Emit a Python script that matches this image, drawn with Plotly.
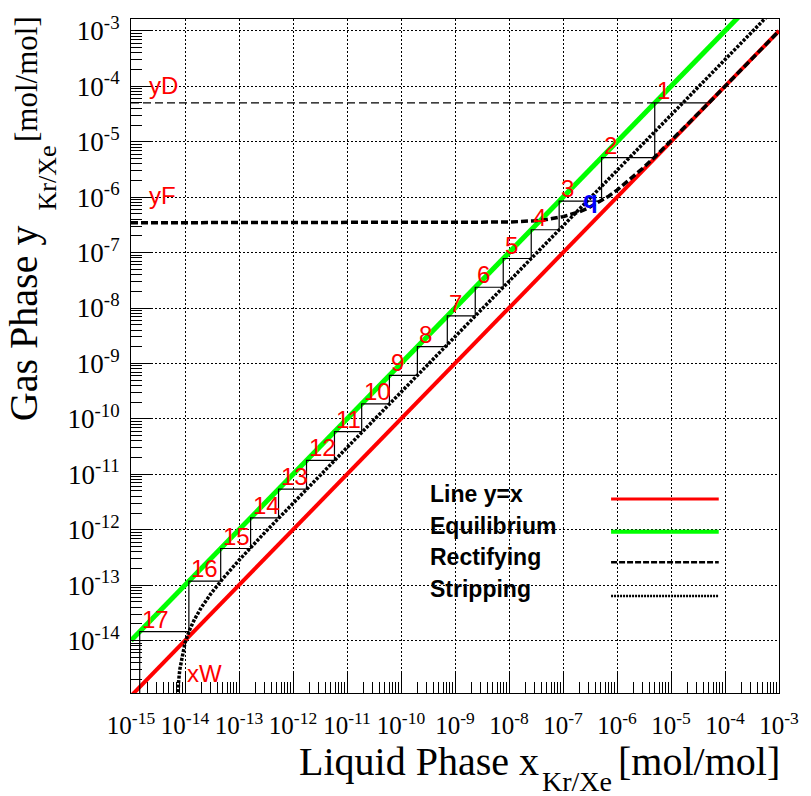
import math
import plotly.graph_objects as go

# ---------------- data ----------------
x_tick_exps = [-15, -14, -13, -12, -11, -10, -9, -8, -7, -6, -5, -4, -3]
y_tick_exps = [-14, -13, -12, -11, -10, -9, -8, -7, -6, -5, -4, -3]
x_range_log = [-15.0, -3.0]
y_range_log = [-14.946, -2.786]

# line y = x
diag_x = [1e-15, 1e-3]
diag_y = [1e-15, 1e-3]

# equilibrium line (y = 10 x)
equil_x = [1e-15, 1e-3]
equil_y = [1e-14, 1e-2]

# rectifying operating line
rect_x = [1e-15, 1e-12, 1e-9, 1e-8, 3e-8, 5e-8, 1e-7, 2e-7, 3e-7, 5e-7, 7e-7,
          1e-6, 2e-6, 3e-6, 5e-6, 1e-5, 5e-5, 1e-4, 1e-3]
rect_y = [3.45e-7, 3.45e-7, 3.45e-7, 3.549e-7, 3.748e-7, 3.947e-7, 4.443e-7,
          5.436e-7, 6.429e-7, 8.416e-7, 1.0402e-6, 1.338e-6, 2.331e-6,
          3.324e-6, 5.311e-6, 1.0276e-5, 5.0e-5, 9.966e-5, 9.934e-4]

# stripping operating line
strip_x = [7.1e-15, 7.3e-15, 7.6e-15, 8e-15, 9e-15, 1e-14, 1.2e-14, 1.5e-14,
           2e-14, 3e-14, 5e-14, 1e-13, 3e-13, 1e-12, 1e-11, 1e-10, 1e-9,
           1e-8, 1e-7, 1e-6, 1e-5, 1e-4, 1e-3]
strip_y = [2.63e-16, 8.69e-16, 1.778e-15, 2.99e-15, 6.02e-15, 9.05e-15,
           1.511e-14, 2.42e-14, 3.935e-14, 6.965e-14, 1.3025e-13, 2.8175e-13,
           8.8775e-13, 3.009e-12, 3.028e-11, 3.03e-10, 3.03e-9, 3.03e-8,
           3.03e-7, 3.03e-6, 3.03e-5, 3.03e-4, 3.03e-3]

# distillate composition, stage (equilibrium) points
x_D = 5.0e-5
y_D = 5.0e-5
stage_x = [5.0e-6, 5.18e-7, 8.49e-8, 2.58e-8, 7.82e-9, 2.37e-9, 7.20e-10,
           2.01e-10, 6.10e-11, 1.87e-11, 5.86e-12, 1.78e-12, 5.40e-13,
           1.64e-13, 4.58e-14, 1.18e-14, 1.45e-15]
stage_y = [5.0e-5, 5.18e-6, 8.49e-7, 2.58e-7, 7.82e-8, 2.37e-8, 7.20e-9,
           2.01e-9, 6.10e-10, 1.87e-10, 5.86e-11, 1.78e-11, 5.40e-12,
           1.64e-12, 4.58e-13, 1.18e-13, 1.45e-14]
stage_labels = ["1", "2", "3", "4", "5", "6", "7", "8", "9", "10", "11", "12",
                "13", "14", "15", "16", "17"]
last_step_bottom = 1e-16

# text labels (value positions)
yD_label_pos = (1.95e-15, 1.05e-4)
yF_label_pos = (1.95e-15, 1.05e-6)
xW_label_pos = (1.0e-14, 2.5e-15)
q_label_pos = (2.2e-7, 9.0e-7)

legend_names = ["Line y=x", "Equilibrium", "Rectifying", "Stripping"]

# ---------------- figure ----------------
W, H = 811, 796
ML, MR, MT, MB = 131, 24, 12, 103
PW, PH = W - ML - MR, H - MT - MB


def px(xp):
    return (xp - ML) / PW


def py(yp):
    return (H - MB - yp) / PH


SERIF = "Liberation Serif"
SANS = "Liberation Sans"

fig = go.Figure()

fig.add_trace(go.Scatter(x=diag_x, y=diag_y, mode="lines",
                         line=dict(color="#ff0000", width=4), showlegend=False))
fig.add_trace(go.Scatter(x=equil_x, y=equil_y, mode="lines",
                         line=dict(color="#00ff00", width=5), showlegend=False))
fig.add_trace(go.Scatter(x=[diag_x[0], stage_x[0]], y=[y_D, y_D], mode="lines",
                         line=dict(color="black", width=1.3, dash="8px,4px"),
                         showlegend=False))
fig.add_trace(go.Scatter(x=rect_x, y=rect_y, mode="lines",
                         line=dict(color="black", width=3.5, dash="7px,3px"),
                         showlegend=False))
fig.add_trace(go.Scatter(x=strip_x, y=strip_y, mode="lines",
                         line=dict(color="black", width=3.5, dash="3px,1.5px"),
                         showlegend=False))

# McCabe-Thiele steps
sx, sy = [x_D], [y_D]
n = len(stage_x)
for k in range(n):
    sx.append(stage_x[k]); sy.append(stage_y[k])
    nxt = stage_y[k + 1] if k < n - 1 else last_step_bottom
    sx.append(stage_x[k]); sy.append(nxt)
fig.add_trace(go.Scatter(x=sx, y=sy, mode="lines",
                         line=dict(color="black", width=1.2), showlegend=False))

annotations = []
for k in range(n):
    annotations.append(dict(x=math.log10(stage_x[k]), y=math.log10(stage_y[k]),
                            xref="x", yref="y", text=stage_labels[k],
                            showarrow=False, xanchor="left", yanchor="bottom",
                            xshift=0, yshift=-3,
                            font=dict(family=SANS, size=24, color="#ff0000")))

for txt, pos in (("yD", yD_label_pos), ("yF", yF_label_pos), ("xW", xW_label_pos)):
    annotations.append(dict(x=math.log10(pos[0]), y=math.log10(pos[1]),
                            xref="x", yref="y", text=txt, showarrow=False,
                            xanchor="left", yanchor="middle",
                            font=dict(family=SANS, size=24, color="#ff0000")))
annotations.append(dict(x=math.log10(q_label_pos[0]), y=math.log10(q_label_pos[1]),
                        xref="x", yref="y", text="<b>q</b>", showarrow=False,
                        xanchor="left", yanchor="middle",
                        font=dict(family=SANS, size=24, color="#0000ff")))

# legend (text left, line sample right)
leg_text_y = [492, 524, 556, 588]
leg_line_y = [497, 530, 561, 595]
leg_styles = [dict(color="#ff0000", width=3),
              dict(color="#00ff00", width=4),
              dict(color="black", width=2.5, dash="6px,2px"),
              dict(color="black", width=2.5, dash="2px,1px")]
shapes = []
for name, ty, ly, st in zip(legend_names, leg_text_y, leg_line_y, leg_styles):
    annotations.append(dict(x=px(432), y=py(ty), xref="paper", yref="paper",
                            text="<b>%s</b>" % name, showarrow=False,
                            xanchor="left", yanchor="middle",
                            font=dict(family=SANS, size=23, color="black")))
    shapes.append(dict(type="line", xref="paper", yref="paper",
                       x0=px(617), x1=px(726), y0=py(ly), y1=py(ly), line=st))

# axis titles (right / top aligned like the original)
annotations += [
    dict(x=px(546), y=py(762), xref="paper", yref="paper", text="Liquid Phase x",
         showarrow=False, xanchor="right", yanchor="middle",
         font=dict(family=SERIF, size=40, color="black")),
    dict(x=px(545), y=py(782), xref="paper", yref="paper", text="Kr/Xe",
         showarrow=False, xanchor="left", yanchor="middle",
         font=dict(family=SERIF, size=28, color="black")),
    dict(x=px(790), y=py(762), xref="paper", yref="paper", text="[mol/mol]",
         showarrow=False, xanchor="right", yanchor="middle",
         font=dict(family=SERIF, size=40, color="black")),
    dict(x=px(22), y=py(420), xref="paper", yref="paper", text="Gas Phase y",
         showarrow=False, xanchor="center", yanchor="bottom", textangle=-90,
         font=dict(family=SERIF, size=40, color="black")),
    dict(x=px(46), y=py(208), xref="paper", yref="paper", text="Kr/Xe",
         showarrow=False, xanchor="center", yanchor="bottom", textangle=-90,
         font=dict(family=SERIF, size=26, color="black")),
    dict(x=px(25), y=py(138), xref="paper", yref="paper", text="[mol/mol]",
         showarrow=False, xanchor="center", yanchor="bottom", textangle=-90,
         font=dict(family=SERIF, size=31, color="black")),
]

minor_x = [d * 10.0 ** e for e in range(-15, -3) for d in range(2, 10)]
minor_y = [d * 10.0 ** e for e in range(-15, -2) for d in range(2, 10)]

axis_common = dict(type="log", ticks="inside", ticklen=22, tickwidth=1,
                   tickcolor="black", showgrid=True, gridcolor="black",
                   gridwidth=1, griddash="2px,2px", showline=True,
                   linecolor="black", linewidth=1, mirror=True, zeroline=False,
                   tickmode="array", tickangle=0)

fig.update_layout(
    width=W, height=H,
    margin=dict(l=ML, r=MR, t=MT, b=MB, pad=0),
    paper_bgcolor="white", plot_bgcolor="white",
    showlegend=False,
    xaxis=dict(range=x_range_log,
               tickvals=[10.0 ** e for e in x_tick_exps],
               ticktext=["10<sup>%d</sup>" % e for e in x_tick_exps],
               tickfont=dict(family=SERIF, size=25, color="black"),
               ticklabelstandoff=10,
               minor=dict(tickmode="array", tickvals=minor_x, ticks="inside",
                          ticklen=11, tickwidth=1, tickcolor="black",
                          showgrid=False),
               **axis_common),
    yaxis=dict(range=y_range_log,
               tickvals=[10.0 ** e for e in y_tick_exps],
               ticktext=["10<sup>%d</sup>" % e for e in y_tick_exps],
               tickfont=dict(family=SERIF, size=27, color="black"),
               ticklabelstandoff=5,
               minor=dict(tickmode="array", tickvals=minor_y, ticks="inside",
                          ticklen=11, tickwidth=1, tickcolor="black",
                          showgrid=False),
               **axis_common),
    annotations=annotations,
    shapes=shapes,
)

fig.write_html("out.html")
